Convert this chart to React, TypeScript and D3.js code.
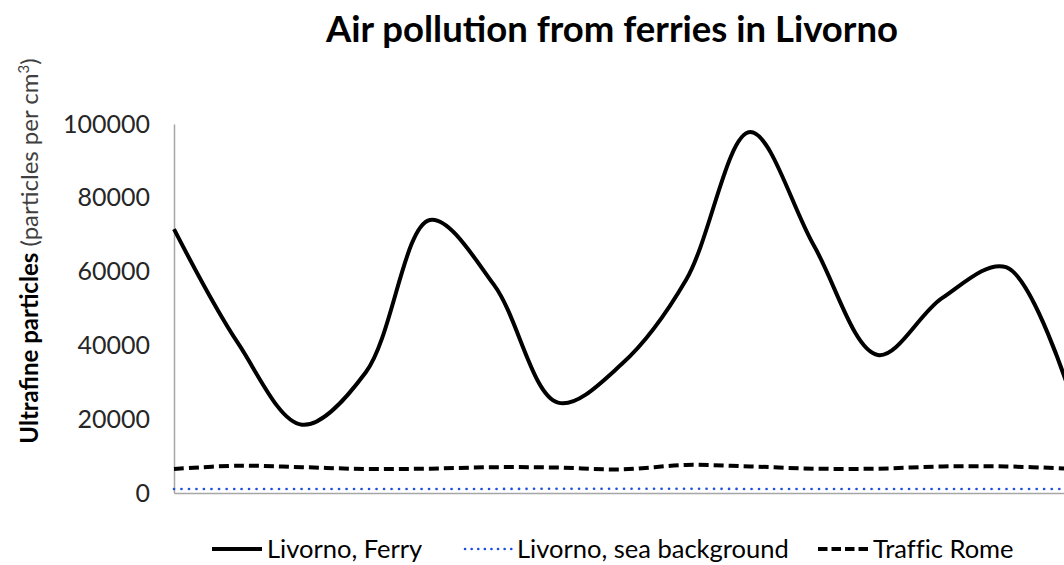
import { useEffect, useRef } from 'react';
import * as d3 from 'd3';

// sample index along the x axis (no labels shown in the chart)
const samples = d3.range(15);

// ultrafine particles per cm3
const ferryValues = [71500, 40600, 18500, 32800, 74000, 56400, 24500, 35000, 57700, 97800, 67000, 37400, 52800, 61200, 27000];
const seaValues = [1100, 1100, 1100, 1100, 1100, 1100, 1150, 1150, 1150, 1100, 1100, 1100, 1100, 1100, 1100];
const trafficValues = [6500, 7400, 7000, 6500, 6600, 7000, 6900, 6400, 7600, 7200, 6600, 6600, 7200, 7200, 6600];

const yTicks = [0, 20000, 40000, 60000, 80000, 100000];

const seriesNames = ['Livorno, Ferry', 'Livorno, sea background', 'Traffic Rome'];

export default function App() {
    const ref = useRef<SVGSVGElement>(null);

    useEffect(() => {
        document.body.style.margin = '0';

        const width = 1064;
        const height = 565;
        const font = 'Lato, "Open Sans", sans-serif';

        const svg = d3.select(ref.current);
        svg.selectAll('*').remove();

        // scales
        const x = d3.scaleLinear()
            .domain([0, samples.length - 1])
            .range([174, 1070]);

        const y = d3.scaleLinear()
            .domain([0, 100000])
            .range([493, 124]);

        // title
        svg.append('text')
            .attr('x', 612)
            .attr('y', 42)
            .attr('text-anchor', 'middle')
            .style('font-family', font)
            .style('font-weight', 'bold')
            .style('font-size', '36.5px')
            .attr('fill', '#000')
            .text('Air pollution from ferries in Livorno');

        // y axis label
        const ylab = svg.append('text')
            .attr('transform', 'translate(38, 251) rotate(-90)')
            .attr('text-anchor', 'middle')
            .style('font-family', font)
            .style('font-size', '24px')
            .attr('fill', '#000');
        ylab.append('tspan').style('font-weight', 'bold').text('Ultrafine particles');
        ylab.append('tspan').attr('fill', '#404040').text(' (particles per cm');
        ylab.append('tspan').attr('fill', '#404040').attr('dy', -9).style('font-size', '15px').text('3');
        ylab.append('tspan').attr('fill', '#404040').attr('dy', 9).text(')');

        // y axis
        const yAxis = d3.axisLeft(y)
            .tickValues(yTicks)
            .tickSize(0)
            .tickPadding(24)
            .tickFormat(d3.format('d'));
        const yg = svg.append('g')
            .attr('transform', 'translate(174, 0)')
            .call(yAxis);
        yg.select('.domain').attr('stroke', '#a6a6a6').attr('stroke-width', 1.5);
        yg.selectAll('text')
            .style('font-family', font)
            .style('font-size', '25px')
            .attr('fill', '#262626');

        // x axis line only
        const xAxis = d3.axisBottom(x).ticks(0).tickSize(0).tickFormat(() => '');
        const xg = svg.append('g')
            .attr('transform', 'translate(0, ' + y(0) + ')')
            .call(xAxis);
        xg.select('.domain').attr('stroke', '#a6a6a6').attr('stroke-width', 1.5);

        const line = d3.line<number>()
            .x((d, i) => x(samples[i]))
            .y((d) => y(d))
            .curve(d3.curveCatmullRom);

        const styles = [
            { color: '#000', width: 4, dash: null as string | null },
            { color: '#1f4fe0', width: 2.6, dash: '0.1 7.4' },
            { color: '#000', width: 4, dash: '10 5' }
        ];
        const allValues = [ferryValues, seaValues, trafficValues];

        // draw lines (traffic and sea below ferry)
        [2, 1, 0].forEach(function(k) {
            svg.append('path')
                .datum(allValues[k])
                .attr('d', line)
                .attr('fill', 'none')
                .attr('stroke', styles[k].color)
                .attr('stroke-width', styles[k].width)
                .attr('stroke-linecap', k === 1 ? 'round' : 'butt')
                .attr('stroke-linejoin', 'round')
                .attr('stroke-dasharray', styles[k].dash);
        });

        // legend
        const legendY = 549;
        const legendX = [212, 465, 818];
        const sampleLen = [50, 47, 50];
        seriesNames.forEach(function(name, k) {
            const g = svg.append('g').attr('transform', 'translate(' + legendX[k] + ', ' + legendY + ')');
            g.append('line')
                .attr('x1', 0)
                .attr('x2', sampleLen[k])
                .attr('y1', 0)
                .attr('y2', 0)
                .attr('stroke', styles[k].color)
                .attr('stroke-width', styles[k].width)
                .attr('stroke-linecap', k === 1 ? 'round' : 'butt')
                .attr('stroke-dasharray', k === 2 ? '9.5 4' : (k === 1 ? '0.1 6.5' : null));
            g.append('text')
                .attr('x', sampleLen[k] + 5)
                .attr('y', 0)
                .attr('dy', '0.35em')
                .style('font-family', font)
                .style('font-size', '25.5px')
                .style('font-variant-ligatures', 'none')
                .attr('fill', '#000')
                .text(name);
        });

        svg.attr('width', width).attr('height', height);
    }, []);

    return (
        <svg ref={ref} width={1064} height={565} style={{ display: 'block', background: '#fff' }} />
    );
}
